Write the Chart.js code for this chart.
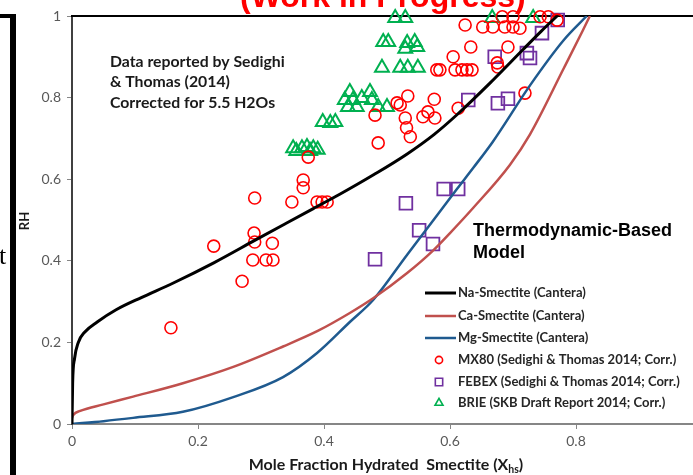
<!DOCTYPE html>
<html>
<head>
<meta charset="utf-8">
<title>RH vs hydrated smectite</title>
<script src="https://cdn.jsdelivr.net/npm/chart.js@4.4.1/dist/chart.umd.min.js"></script>
<style>
  html, body { margin: 0; padding: 0; background: #fff; overflow: hidden; }
  #wrap { position: absolute; left: 0; top: 0; width: 720px; height: 475px; }
</style>
</head>
<body>
<div id="wrap"><canvas id="rhChart" width="720" height="475"></canvas></div>
<script>
// Cantera model curves (mole fraction hydrated smectite vs RH)
const naX  = [0, 0.001, 0.004, 0.01, 0.02, 0.04, 0.07, 0.11, 0.16, 0.225, 0.29, 0.34, 0.383, 0.425, 0.48, 0.532, 0.575, 0.611, 0.663, 0.716, 0.745, 0.77];
const naRH = [0, 0.1, 0.16, 0.2, 0.225, 0.25, 0.28, 0.31, 0.345, 0.395, 0.45, 0.492, 0.528, 0.563, 0.612, 0.662, 0.71, 0.758, 0.835, 0.918, 0.963, 1.0];

const caX  = [0, 0.002, 0.013, 0.05, 0.097, 0.176, 0.256, 0.335, 0.39, 0.441, 0.478, 0.532, 0.573, 0.6, 0.637, 0.695, 0.727, 0.78, 0.811, 0.822];
const caRH = [0.015, 0.022, 0.032, 0.048, 0.067, 0.1, 0.14, 0.19, 0.228, 0.272, 0.308, 0.37, 0.425, 0.468, 0.53, 0.635, 0.71, 0.87, 0.965, 1.0];

const mgX  = [0, 0.05, 0.097, 0.176, 0.256, 0.335, 0.389, 0.441, 0.478, 0.532, 0.563, 0.611, 0.637, 0.668, 0.727, 0.78, 0.817];
const mgRH = [0, 0.007, 0.015, 0.03, 0.066, 0.115, 0.174, 0.25, 0.304, 0.415, 0.478, 0.576, 0.628, 0.692, 0.83, 0.94, 1.0];

// MX80 (Sedighi & Thomas 2014; corrected)
const mx80X  = [0.157, 0.225, 0.270, 0.287, 0.290, 0.289, 0.308, 0.319, 0.318, 0.290, 0.349, 0.367, 0.367, 0.375, 0.389, 0.397, 0.405,
                0.481, 0.486, 0.516, 0.521, 0.533, 0.529, 0.531, 0.537, 0.557, 0.565, 0.575, 0.576, 0.613, 0.719,
                0.579, 0.584, 0.608, 0.619, 0.627, 0.635, 0.605, 0.633, 0.624, 0.652, 0.668, 0.675, 0.676, 0.683,
                0.687, 0.700, 0.711, 0.700, 0.692, 0.743, 0.756, 0.770];
const mx80RH = [0.236, 0.436, 0.350, 0.402, 0.446, 0.468, 0.402, 0.402, 0.443, 0.554, 0.544, 0.598, 0.579, 0.654, 0.544, 0.544, 0.544,
                0.757, 0.689, 0.787, 0.782, 0.804, 0.750, 0.726, 0.704, 0.753, 0.765, 0.796, 0.750, 0.774, 0.811,
                0.868, 0.868, 0.868, 0.868, 0.868, 0.868, 0.900, 0.924, 0.978, 0.973, 0.973, 0.885, 0.875, 0.998,
                0.973, 0.973, 0.970, 0.998, 0.924, 0.998, 0.998, 0.990];

// FEBEX (Sedighi & Thomas 2014; corrected)
const febexX  = [0.771, 0.746, 0.722, 0.727, 0.671, 0.629, 0.676, 0.692, 0.590, 0.613, 0.530, 0.551, 0.573, 0.481];
const febexRH = [0.990, 0.958, 0.909, 0.897, 0.900, 0.794, 0.786, 0.797, 0.576, 0.576, 0.541, 0.475, 0.441, 0.404];

// BRIE (SKB draft report 2014; corrected)
const brieX  = [0.513, 0.529, 0.667, 0.732,
                0.494, 0.502, 0.532, 0.544, 0.548, 0.529,
                0.492, 0.521, 0.533, 0.549,
                0.441, 0.433, 0.438, 0.452, 0.460, 0.473, 0.476, 0.486, 0.500, 0.446,
                0.398, 0.410, 0.418,
                0.351, 0.365, 0.373, 0.383, 0.390, 0.356, 0.378];
const brieRH = [0.995, 0.995, 0.995, 0.995,
                0.936, 0.936, 0.934, 0.936, 0.924, 0.920,
                0.873, 0.873, 0.873, 0.873,
                0.814, 0.794, 0.777, 0.777, 0.799, 0.814, 0.794, 0.777, 0.777, 0.794,
                0.740, 0.738, 0.740,
                0.676, 0.676, 0.679, 0.676, 0.672, 0.669, 0.669];

const xTicks = [0, 0.2, 0.4, 0.6, 0.8, 1];
const yTicks = [0, 0.2, 0.4, 0.6, 0.8, 1];

function toPoints(xs, ys) {
    return xs.map(function(x, i) { return { x: x, y: ys[i] }; });
}

function curve(label, xs, ys, color, width) {
    return {
        type: 'line',
        label: label,
        data: toPoints(xs, ys),
        borderColor: color,
        backgroundColor: color,
        borderWidth: width,
        pointRadius: 0,
        cubicInterpolationMode: 'monotone',
        fill: false
    };
}

function markers(label, xs, ys, style, radius, color, width) {
    return {
        type: 'scatter',
        label: label,
        data: toPoints(xs, ys),
        pointStyle: style,
        pointRadius: radius,
        borderColor: color,
        backgroundColor: 'rgba(0,0,0,0)',
        borderWidth: width,
        clip: false
    };
}

// frame line along the top of the plot, under the markers
const frameTop = {
    id: 'frameTop',
    beforeDatasetsDraw(chart) {
        const ctx = chart.ctx, area = chart.chartArea;
        ctx.save();
        ctx.strokeStyle = '#000';
        ctx.lineWidth = 2;
        ctx.beginPath();
        ctx.moveTo(area.left - 1, area.top);
        ctx.lineTo(chart.width, area.top);
        ctx.stroke();
        ctx.restore();
    }
};

// annotations, axis titles, legend and the slide pieces around the chart
const annotations = {
    id: 'annotations',
    afterDraw(chart) {
        const ctx = chart.ctx;
        ctx.save();

        // slide heading, mostly above the visible area
        ctx.fillStyle = '#ff0000';
        ctx.font = 'bold 32px "Liberation Sans", Arial, sans-serif';
        ctx.textAlign = 'left';
        ctx.textBaseline = 'alphabetic';
        ctx.fillText('(Work in Progress)', 240, 7);

        // neighbouring box on the slide
        ctx.fillStyle = '#000';
        ctx.fillRect(0, 14, 16, 4);
        ctx.fillRect(10, 14, 6, 461);
        ctx.font = '26px "Liberation Serif", "DejaVu Serif", serif';
        ctx.fillText('t', -1, 264);

        // data note
        ctx.fillStyle = '#1a1a1a';
        ctx.font = 'bold 15.8px Lato, sans-serif';
        ctx.textBaseline = 'middle';
        ctx.fillText('Data reported by Sedighi', 110, 62);
        ctx.fillText('& Thomas (2014)', 110, 82);
        ctx.fillText('Corrected for 5.5 H2Os', 110, 103);

        // model label
        ctx.fillStyle = '#000';
        ctx.font = 'bold 18px "Liberation Sans", Arial, sans-serif';
        ctx.fillText('Thermodynamic-Based', 473, 231);
        ctx.fillText('Model', 473, 253);

        // y axis title
        ctx.save();
        ctx.translate(25, 221);
        ctx.rotate(-Math.PI / 2);
        ctx.textAlign = 'center';
        ctx.font = 'bold 13px Lato, sans-serif';
        ctx.fillStyle = '#1a1a1a';
        ctx.fillText('RH', 0, 0);
        ctx.restore();

        // x axis title with subscript
        const mainFont = 'bold 16px Lato, sans-serif';
        const subFont = 'bold 10.5px Lato, sans-serif';
        const head = 'Mole Fraction Hydrated  Smectite (X';
        ctx.font = mainFont;
        const wHead = ctx.measureText(head).width;
        const wTail = ctx.measureText(')').width;
        ctx.font = subFont;
        const wSub = ctx.measureText('hs').width;
        let tx = 386 - (wHead + wSub + wTail) / 2;
        const ty = 470;
        ctx.fillStyle = '#1a1a1a';
        ctx.textBaseline = 'alphabetic';
        ctx.font = mainFont;
        ctx.fillText(head, tx, ty);
        tx += wHead;
        ctx.font = subFont;
        ctx.fillText('hs', tx, ty + 3);
        tx += wSub;
        ctx.font = mainFont;
        ctx.fillText(')', tx, ty);

        // legend
        const rows = [293, 316, 338, 360, 382, 403];
        const sizes = [0, 0, 0, 3.6, 5.2, 4.6];
        ctx.textBaseline = 'middle';
        chart.data.datasets.forEach(function(ds, i) {
            const y = rows[i];
            if (ds.type === 'line') {
                ctx.strokeStyle = ds.borderColor;
                ctx.lineWidth = ds.borderWidth;
                ctx.beginPath();
                ctx.moveTo(425, y);
                ctx.lineTo(456, y);
                ctx.stroke();
            } else {
                ctx.fillStyle = 'rgba(0,0,0,0)';
                ctx.strokeStyle = ds.borderColor;
                ctx.lineWidth = 1.6;
                Chart.helpers.drawPoint(ctx, {
                    pointStyle: ds.pointStyle,
                    radius: sizes[i],
                    borderWidth: 1.6,
                    rotation: 0
                }, 439, y);
            }
            ctx.fillStyle = '#262626';
            ctx.font = 'bold 13px Lato, sans-serif';
            ctx.fillText(ds.label, 458, y);
        });

        ctx.restore();
    }
};

const ctx = document.getElementById('rhChart').getContext('2d');
const rhChart = new Chart(ctx, {
    type: 'scatter',
    data: {
        datasets: [
            curve('Na-Smectite (Cantera)', naX, naRH, '#000000', 3),
            curve('Ca-Smectite (Cantera)', caX, caRH, '#c0504d', 2.5),
            curve('Mg-Smectite (Cantera)', mgX, mgRH, '#1f5a8f', 2.5),
            markers('MX80 (Sedighi & Thomas 2014; Corr.)', mx80X, mx80RH, 'circle', 6, '#ff0000', 1.6),
            markers('FEBEX (Sedighi & Thomas 2014; Corr.)', febexX, febexRH, 'rect', 9, '#7030a0', 1.8),
            markers('BRIE (SKB Draft Report 2014; Corr.)', brieX, brieRH, 'triangle', 8, '#00b050', 2)
        ]
    },
    options: {
        responsive: false,
        animation: false,
        devicePixelRatio: 1,
        events: [],
        layout: { padding: { top: 16, right: 18, left: 0, bottom: 0 } },
        plugins: {
            legend: { display: false },
            tooltip: { enabled: false }
        },
        scales: {
            x: {
                type: 'linear',
                min: 0,
                max: 1,
                afterBuildTicks: function(scale) {
                    scale.ticks = xTicks.map(function(v) { return { value: v }; });
                },
                afterFit: function(scale) { scale.height = 51; },
                ticks: {
                    color: '#595959',
                    font: { family: 'Lato', size: 14 },
                    padding: 4,
                    maxRotation: 0,
                    callback: function(v) { return String(v); }
                },
                grid: {
                    drawOnChartArea: false,
                    drawTicks: true,
                    tickLength: 5,
                    color: '#868686'
                },
                border: { color: '#868686', width: 2 }
            },
            y: {
                type: 'linear',
                min: 0,
                max: 1,
                afterBuildTicks: function(scale) {
                    scale.ticks = yTicks.map(function(v) { return { value: v }; });
                },
                afterFit: function(scale) { scale.width = 72; },
                ticks: {
                    color: '#595959',
                    font: { family: 'Lato', size: 14 },
                    padding: 6,
                    callback: function(v) { return String(v); }
                },
                grid: {
                    drawOnChartArea: false,
                    drawTicks: true,
                    tickLength: 5,
                    color: '#868686'
                },
                border: { color: '#404040', width: 2 }
            }
        }
    },
    plugins: [frameTop, annotations]
});
</script>
</body>
</html>
